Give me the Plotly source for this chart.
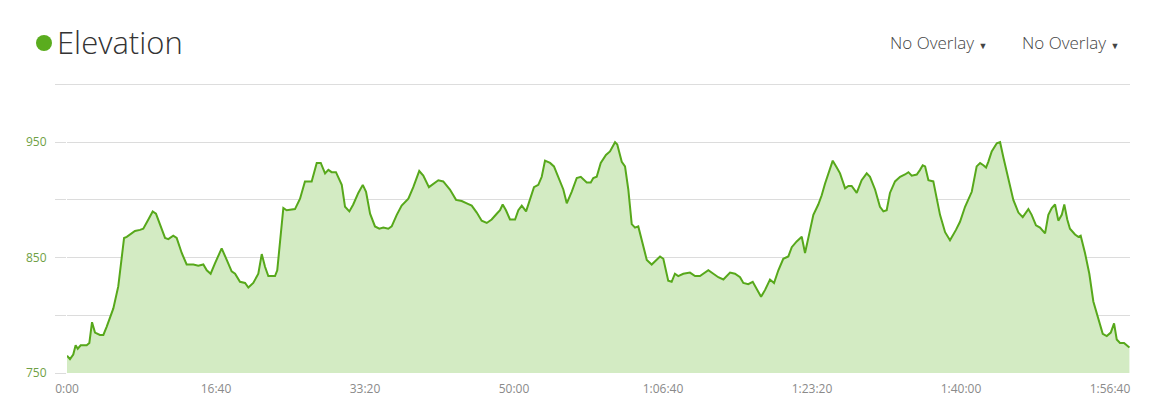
import plotly.graph_objects as go

# elapsed time (seconds) and elevation
time_s = [0, 20, 42, 58, 72, 92, 132, 150, 168, 188, 221, 244, 266, 311, 344, 383, 401, 423, 456, 490,
          512, 546, 575, 597, 624, 658, 680, 713, 736, 770, 803, 848, 881, 915, 938, 964, 993, 1038, 1072, 1105,
          1128, 1161, 1195, 1217, 1250, 1284, 1307, 1329, 1351, 1396, 1411, 1430, 1452, 1474, 1530, 1564, 1597, 1642, 1676, 1703,
          1732, 1754, 1776, 1805, 1832, 1844, 1866, 1895, 1921, 1955, 1985, 2007, 2034, 2067, 2096, 2123, 2156, 2179, 2213, 2246,
          2291, 2324, 2364, 2391, 2429, 2458, 2492, 2525, 2570, 2611, 2649, 2683, 2716, 2750, 2783, 2817, 2850, 2884, 2906, 2924,
          2946, 2973, 3007, 3029, 3052, 3081, 3107, 3134, 3163, 3186, 3208, 3242, 3268, 3309, 3331, 3354, 3387, 3421, 3448, 3488,
          3515, 3532, 3555, 3582, 3617, 3644, 3678, 3693, 3723, 3745, 3767, 3790, 3812, 3834, 3868, 3891, 3924, 3958, 3980, 4002,
          4035, 4058, 4080, 4102, 4136, 4181, 4215, 4248, 4271, 4304, 4338, 4371, 4405, 4450, 4483, 4517, 4539, 4572, 4602, 4629,
          4658, 4685, 4718, 4745, 4774, 4807, 4841, 4864, 4897, 4931, 4953, 4987, 5009, 5042, 5065, 5087, 5109, 5139, 5166, 5188,
          5222, 5244, 5266, 5300, 5333, 5367, 5389, 5423, 5456, 5479, 5501, 5523, 5557, 5591, 5624, 5647, 5669, 5703, 5725, 5743,
          5759, 5781, 5814, 5837, 5859, 5893, 5926, 5966, 5993, 6027, 6072, 6105, 6128, 6150, 6168, 6183, 6206, 6240, 6262, 6284,
          6318, 6351, 6385, 6414, 6452, 6474, 6503, 6530, 6564, 6586, 6609, 6631, 6653, 6676, 6693, 6713, 6731, 6765, 6787, 6803,
          6832, 6861, 6888, 6921, 6951, 6978, 7005, 7027, 7045, 7067, 7094, 7112, 7130]
elevation_m = [765, 762, 766, 774, 771, 774, 774, 776, 794, 785, 783, 783, 790, 806, 825, 867, 868, 870, 873, 874,
               875, 883, 890, 888, 878, 867, 866, 869, 867, 854, 844, 844, 843, 844, 839, 836, 845, 858, 848, 838,
               836, 829, 828, 824, 828, 836, 853, 842, 834, 834, 839, 865, 893, 891, 892, 901, 916, 916, 932, 932,
               923, 926, 924, 924, 917, 913, 894, 890, 896, 906, 913, 907, 888, 877, 875, 876, 875, 877, 887, 895,
               901, 911, 925, 921, 911, 914, 917, 916, 909, 900, 899, 897, 895, 889, 882, 880, 883, 888, 891, 896,
               891, 883, 883, 891, 895, 890, 900, 911, 913, 920, 934, 932, 929, 917, 909, 897, 907, 919, 920, 915,
               915, 919, 920, 932, 939, 942, 950, 948, 933, 929, 909, 879, 876, 877, 859, 848, 844, 848, 851, 849,
               830, 829, 836, 834, 836, 837, 834, 834, 836, 839, 836, 833, 831, 837, 836, 833, 828, 827, 829, 823,
               816, 822, 831, 828, 839, 849, 851, 859, 864, 868, 854, 874, 887, 896, 904, 914, 922, 934, 928, 923,
               910, 912, 912, 906, 917, 923, 920, 909, 894, 890, 891, 906, 916, 920, 922, 924, 921, 922, 926, 930,
               929, 917, 916, 901, 887, 872, 865, 874, 881, 894, 907, 929, 932, 930, 928, 933, 942, 949, 950, 937,
               919, 900, 889, 885, 892, 887, 878, 876, 871, 887, 893, 896, 882, 887, 896, 883, 875, 870, 868, 869,
               854, 836, 812, 797, 784, 782, 785, 793, 779, 776, 776, 774, 772]

x_tick_values = [0, 1000, 2000, 3000, 4000, 5000, 6000, 7000]
x_tick_labels = ["0:00", "16:40", "33:20", "50:00", "1:06:40", "1:23:20", "1:40:00", "1:56:40"]
y_tick_values = [750, 800, 850, 900, 950, 1000]
y_tick_labels = ["750", "", "850", "", "950", ""]

title_text = "Elevation"
overlay_labels = ["No Overlay", "No Overlay"]

PW, PH = 1063, 289  # plot area size in px

fig = go.Figure()
fig.add_trace(go.Scatter(
    x=time_s, y=elevation_m, mode="lines",
    line=dict(color="#57a81b", width=2),
    fill="tozeroy", fillcolor="#d3ebc3",
    hoverinfo="skip", showlegend=False,
))

fig.update_layout(
    width=1152, height=401,
    margin=dict(l=59, r=30, t=76, b=36),
    paper_bgcolor="white", plot_bgcolor="white",
    font=dict(family="Open Sans, sans-serif"),
    xaxis=dict(
        range=[0, 7134], tickvals=x_tick_values, ticktext=x_tick_labels,
        showgrid=False, zeroline=False, showline=False, ticks="",
        tickfont=dict(size=12, color="#8a8a8a"), ticklabelstandoff=7,
    ),
    yaxis=dict(
        range=[750, 1000.4], tickvals=y_tick_values, ticktext=y_tick_labels,
        showgrid=True, gridcolor="#dcdcdc", gridwidth=1, zeroline=False, showline=False,
        ticks="outside", ticklen=11, tickcolor="#dcdcdc",
        tickfont=dict(size=12, color="#6f9f45"), ticklabelstandoff=6,
    ),
)

# top gridline at the upper tick (plotly drops the grid line at the range edge)
fig.add_shape(type="line", xref="paper", yref="y",
              x0=-11 / PW, x1=1, y0=y_tick_values[-1], y1=y_tick_values[-1],
              line=dict(color="#dcdcdc", width=1), layer="below")

# title with green dot
fig.add_shape(type="circle", xref="paper", yref="paper",
              x0=-31 / PW, x1=-15 / PW, y0=1 + 33 / PH, y1=1 + 49 / PH,
              fillcolor="#5aac1e", line=dict(width=0))
fig.add_annotation(text=title_text, xref="paper", yref="paper",
                   x=-12 / PW, y=1 + 42 / PH, xanchor="left", yanchor="middle",
                   showarrow=False, font=dict(size=31, color="#333333", family="Open Sans", weight=300))

for i, lbl in enumerate(overlay_labels):
    xpos = [888, 1020][i]
    fig.add_annotation(text=lbl + " <span style='font-size:9px'>▼</span>", xref="paper", yref="paper",
                       x=(xpos - 67) / PW, y=1 + 42 / PH, xanchor="left", yanchor="middle",
                       showarrow=False, font=dict(size=17, color="#444444", family="Open Sans", weight=300))

fig.write_html("out.html")
